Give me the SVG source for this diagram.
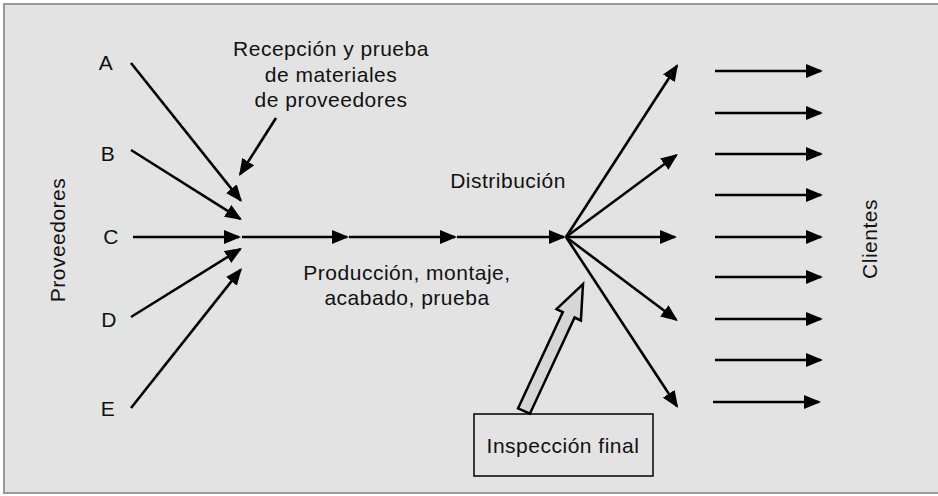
<svg xmlns="http://www.w3.org/2000/svg" width="938" height="496" viewBox="0 0 938 496">
<defs>
<marker id="ah" markerUnits="userSpaceOnUse" markerWidth="18" markerHeight="14" refX="15" refY="7" orient="auto">
<path d="M0,0 L17,7 L0,14 z" fill="#000"/>
</marker>
<style>
.t{font-family:"Liberation Sans",Arial,sans-serif;font-size:21px;fill:#111;letter-spacing:0.5px}
.c{text-anchor:middle}
.ln{stroke:#000;stroke-width:2.6;fill:none;marker-end:url(#ah)}
</style>
</defs>
<rect x="4" y="4" width="944" height="489" fill="#e3e3e3" stroke="#9a9a9a" stroke-width="2"/>

<g id="labels">
<text class="t c" x="331" y="56">Recepción y prueba</text>
<text class="t c" x="331" y="82">de materiales</text>
<text class="t c" x="331" y="107">de proveedores</text>
<text class="t c" x="508" y="188">Distribución</text>
<text class="t c" x="407" y="280">Producción, montaje,</text>
<text class="t c" x="407" y="305">acabado, prueba</text>
<text class="t c" transform="translate(65,240) rotate(-90)">Proveedores</text>
<text class="t c" transform="translate(877,239) rotate(-90)">Clientes</text>
</g>

<g id="supplier-A"><text class="t c" x="106" y="70">A</text></g>
<g id="supplier-B"><text class="t c" x="108" y="161">B</text></g>
<g id="supplier-C"><text class="t c" x="111" y="244">C</text></g>
<g id="supplier-D"><text class="t c" x="109" y="327">D</text></g>
<g id="supplier-E"><text class="t c" x="108" y="416">E</text></g>

<g id="inspeccion-final">
<rect x="474" y="414" width="179" height="62" fill="#e3e3e3" stroke="#000" stroke-width="1.5"/>
<text class="t c" x="563" y="453">Inspección final</text>
<polygon points="518.1,408.3 562.8,312.1 556.5,309.1 583,284 580.9,320.5 574.6,317.5 529.9,413.7" fill="#d6d6d6" stroke="#000" stroke-width="2.5" stroke-linejoin="miter"/>
</g>

<g id="connectors">
<line class="ln" x1="131" y1="63" x2="240.7" y2="200.4"/>
<line class="ln" x1="131" y1="150" x2="240.3" y2="218.9"/>
<line class="ln" x1="133" y1="237" x2="239" y2="237"/>
<line class="ln" x1="131" y1="317" x2="240.3" y2="249.1"/>
<line class="ln" x1="131" y1="408" x2="240.7" y2="269.6"/>
<line class="ln" x1="276" y1="118" x2="240.1" y2="174.3"/>

<line class="ln" x1="242" y1="237" x2="347" y2="237"/>
<line class="ln" x1="349" y1="237" x2="455" y2="237"/>
<line class="ln" x1="457" y1="237" x2="564" y2="237"/>

<line class="ln" x1="566" y1="237" x2="677" y2="65.7"/>
<line class="ln" x1="566" y1="237" x2="676.3" y2="155.2"/>
<line class="ln" x1="566" y1="237" x2="675" y2="237"/>
<line class="ln" x1="566" y1="237" x2="676.3" y2="319.8"/>
<line class="ln" x1="566" y1="237" x2="677" y2="406.3"/>

<line class="ln" x1="715" y1="71" x2="821" y2="71"/>
<line class="ln" x1="715" y1="113" x2="821" y2="113"/>
<line class="ln" x1="715" y1="154" x2="821" y2="154"/>
<line class="ln" x1="715" y1="195" x2="821" y2="195"/>
<line class="ln" x1="715" y1="237" x2="821" y2="237"/>
<line class="ln" x1="715" y1="277" x2="821" y2="277"/>
<line class="ln" x1="715" y1="319" x2="821" y2="319"/>
<line class="ln" x1="715" y1="360" x2="821" y2="360"/>
<line class="ln" x1="713" y1="402" x2="819" y2="402"/>
</g>
</svg>
